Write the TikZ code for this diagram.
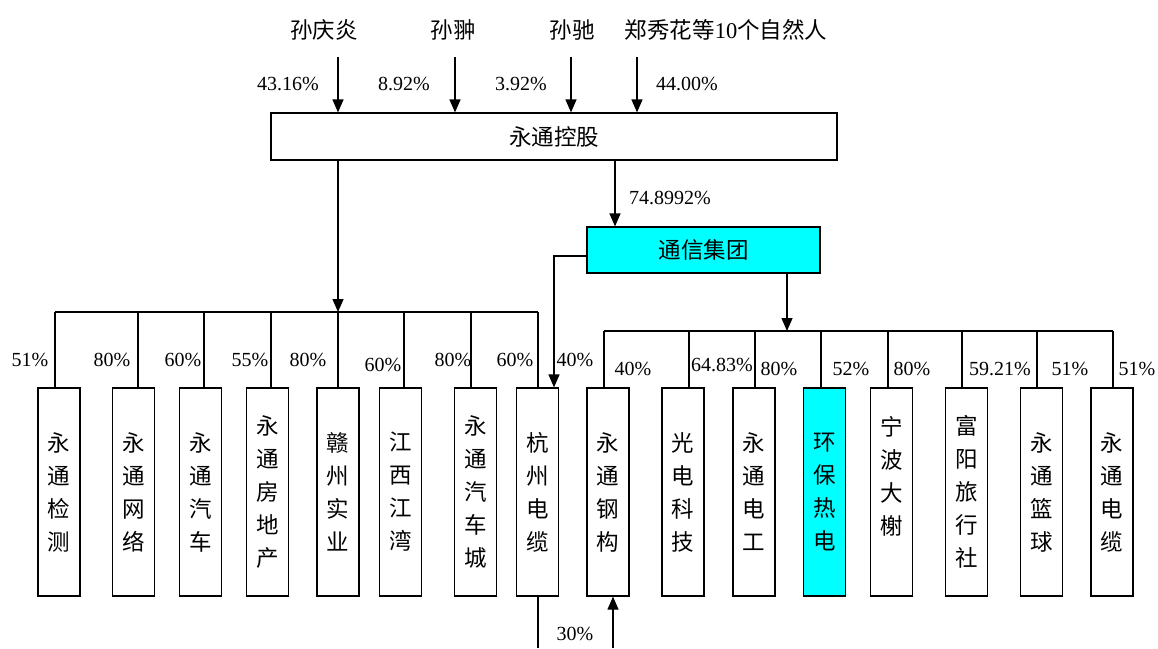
\documentclass[tikz,border=0pt]{standalone}
\usepackage{fontspec}
\setmainfont{Liberation Serif}
\newfontfamily\cjk{Noto Sans CJK SC}
\usetikzlibrary{arrows.meta}
\definecolor{aqua}{RGB}{0,255,255}
\begin{document}
\begin{tikzpicture}[x=1pt,y=-1pt,
  bx/.style={draw,line width=1.2pt,inner sep=0pt},
  hbx/.style={bx,font=\cjk\fontsize{22.5}{26}\selectfont},
  vbx/.style={bx,minimum width=42pt,minimum height=208pt,align=center,font=\cjk\fontsize{22.5}{33}\selectfont},
  pct/.style={inner sep=0pt,font=\fontsize{20}{22}\selectfont},
  person/.style={inner sep=0pt,font=\cjk\fontsize{22.5}{26}\selectfont},
  link/.style={line width=1.2pt},
  arr/.style={link,-{Triangle[length=13pt,width=11pt]}},
]
\useasboundingbox (0,0) rectangle (1158,648);

% shareholders
\node[person] (p1) at (324,30) {孙庆炎};
\node[person] (p2) at (453,30) {孙翀};
\node[person] (p3) at (572,30) {孙驰};
\node[person] (p4) at (726,30) {郑秀花等{\rmfamily 10}个自然人};

\node[hbx,minimum width=566pt,minimum height=47pt] (hold) at (554,136.5) {永通控股};

\coordinate (s1) at (338,57);
\coordinate (s2) at (455,57);
\coordinate (s3) at (571,57);
\coordinate (s4) at (637,57);
\foreach \s in {s1,s2,s3,s4} \draw[arr] (\s) -- (\s |- hold.north);

\node[pct] (q1) at (288,84) {43.16\%};
\node[pct] (q2) at (404,84) {8.92\%};
\node[pct] (q3) at (521,84) {3.92\%};
\node[pct] (q4) at (687,84) {44.00\%};

% group
\node[hbx,fill=aqua,minimum width=233pt,minimum height=46pt] (grp) at (703.5,250) {通信集团};
\coordinate (gx) at (615,0);
\draw[arr] (hold.south -| gx) -- (grp.north -| gx);
\node[pct] (qg) at (670,198) {74.8992\%};

% left subsidiaries
\node[vbx] (L1) at (59,492)    {永\\通\\检\\测};
\node[vbx] (L2) at (133.5,492) {永\\通\\网\\络};
\node[vbx] (L3) at (200.5,492) {永\\通\\汽\\车};
\node[vbx] (L4) at (267.5,492) {永\\通\\房\\地\\产};
\node[vbx] (L5) at (338,492)   {赣\\州\\实\\业};
\node[vbx] (L6) at (400.5,492) {江\\西\\江\\湾};
\node[vbx] (L7) at (475.5,492) {永\\通\\汽\\车\\城};
\node[vbx] (L8) at (537.5,492) {杭\\州\\电\\缆};

% right subsidiaries
\node[vbx] (R1) at (608,492)    {永\\通\\钢\\构};
\node[vbx] (R2) at (683,492)    {光\\电\\科\\技};
\node[vbx] (R3) at (754,492)    {永\\通\\电\\工};
\node[vbx,fill=aqua] (R4) at (824.5,492) {环\\保\\热\\电};
\node[vbx] (R5) at (891.5,492)  {宁\\波\\大\\榭\\\mbox{}};
\node[vbx] (R6) at (966.5,492)  {富\\阳\\旅\\行\\社};
\node[vbx] (R7) at (1041.5,492) {永\\通\\篮\\球};
\node[vbx] (R8) at (1112,492)   {永\\通\\电\\缆};

% left bar
\coordinate (lbar) at (338,312);
\draw[arr] (hold.south -| lbar) -- (lbar);
\coordinate (l1) at (55,312);
\coordinate (l2) at (138,312);
\coordinate (l3) at (204,312);
\coordinate (l4) at (271,312);
\coordinate (l5) at (338,312);
\coordinate (l6) at (404,312);
\coordinate (l7) at (471,312);
\coordinate (l8) at (538,312);
\draw[link] (l1) -- (l8);
\foreach \i in {1,...,8} \draw[link] (l\i) -- (l\i |- L\i.north);

% right bar
\coordinate (rbar) at (787,331);
\draw[arr] (grp.south -| rbar) -- (rbar);
\coordinate (r1) at (604,331);
\coordinate (r2) at (689,331);
\coordinate (r3) at (755,331);
\coordinate (r4) at (821,331);
\coordinate (r5) at (888,331);
\coordinate (r6) at (962,331);
\coordinate (r7) at (1037,331);
\coordinate (r8) at (1113,331);
\draw[link] (r1) -- (r8);
\foreach \i in {1,...,8} \draw[link] (r\i) -- (r\i |- R\i.north);

% group to Hangzhou cable
\coordinate (hz) at (554,256);
\draw[arr] (grp.west |- hz) -| (L8.north -| hz);

% left percentages
\node[pct] (a1) at (30,360) {51\%};
\node[pct] (a2) at (112,360) {80\%};
\node[pct] (a3) at (183,360) {60\%};
\node[pct] (a4) at (250,360) {55\%};
\node[pct] (a5) at (308,360) {80\%};
\node[pct] (a6) at (383,365) {60\%};
\node[pct] (a7) at (453,360) {80\%};
\node[pct] (a8) at (515,360) {60\%};
\node[pct] (a9) at (575,360) {40\%};

% right percentages
\node[pct] (c1) at (633,369) {40\%};
\node[pct] (c2) at (722,365) {64.83\%};
\node[pct] (c3) at (779,369) {80\%};
\node[pct] (c4) at (851,369) {52\%};
\node[pct] (c5) at (912,369) {80\%};
\node[pct] (c6) at (1000,369) {59.21\%};
\node[pct] (c7) at (1070,369) {51\%};
\node[pct] (c8) at (1137,369) {51\%};

% bottom links
\coordinate (e1) at (538,648);
\draw[link] (L8.south -| e1) -- (e1);
\coordinate (e2) at (613,648);
\draw[arr] (e2) -- (R1.south -| e2);
\node[pct] (d1) at (575,634) {30\%};
\end{tikzpicture}
\end{document}
